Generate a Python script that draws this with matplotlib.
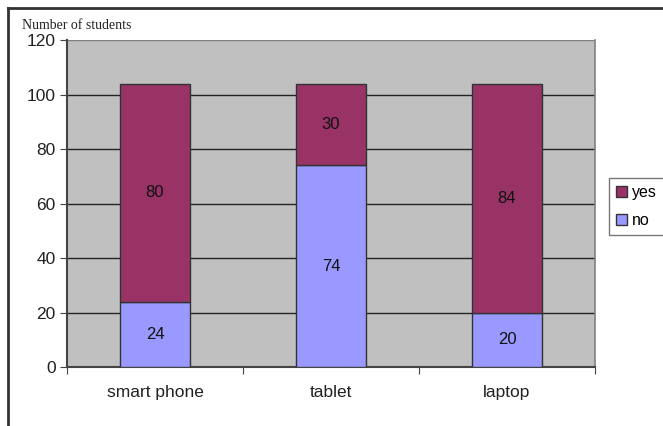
import matplotlib
matplotlib.use("Agg")
import matplotlib.pyplot as plt
from matplotlib.lines import Line2D
import numpy as np

categories = ["smart phone", "tablet", "laptop"]
no_values = [24, 74, 20]
yes_values = [80, 30, 84]
y_ticks = [0, 20, 40, 60, 80, 100, 120]

yes_color = "#993366"
no_color = "#9999FF"

plt.rcParams["font.family"] = ["Liberation Sans", "DejaVu Sans"]

fig = plt.figure(figsize=(6.63, 4.26), dpi=100)
ax = fig.add_axes([0.101, 0.1385, 0.7964, 0.7675])
ax.set_facecolor("#C0C0C0")

x = np.arange(len(categories))
width = 0.4
b_no = ax.bar(x, no_values, width, color=no_color, edgecolor="#333333",
              linewidth=1, label="no", zorder=3)
b_yes = ax.bar(x, yes_values, width, bottom=no_values, color=yes_color,
               edgecolor="#333333", linewidth=1, label="yes", zorder=3)

for rects, vals, bottoms in ((b_no, no_values, [0] * 3), (b_yes, yes_values, no_values)):
    for r, v, b in zip(rects, vals, bottoms):
        ax.text(r.get_x() + r.get_width() / 2, b + v / 2, str(v),
                ha="center", va="center", fontsize=12, color="#111111", zorder=4)

ax.set_xlim(-0.5, len(categories) - 0.5)
ax.set_ylim(0, 120)
ax.set_yticks(y_ticks)
ax.tick_params(axis="y", labelsize=12.5, length=5, color="#444444", pad=3,
               labelcolor="#222222")
ax.yaxis.grid(True, color="#222222", linewidth=1.0, zorder=1)
ax.set_axisbelow(True)
# the top edge of the plot area is a lighter grey line
ax.yaxis.get_gridlines()[-1].set_color("#808080")

# category labels between the boundary ticks
ax.set_xticks(np.arange(-0.5, len(categories), 1.0))
ax.set_xticklabels([])
ax.set_xticks(x, minor=True)
ax.set_xticklabels(categories, minor=True, fontsize=12.5, color="#222222")
ax.tick_params(axis="x", which="major", length=5, color="#444444")
ax.tick_params(axis="x", which="minor", length=0, pad=13)

for side in ("top", "right"):
    ax.spines[side].set_visible(False)
for side in ("left", "bottom"):
    ax.spines[side].set_color("#444444")
    ax.spines[side].set_linewidth(1.5)
# grey border of the plot area on the right
ax.plot([1, 1], [0, 1], transform=ax.transAxes, color="#808080", lw=1.2, clip_on=False, zorder=2)

handles, labels = ax.get_legend_handles_labels()
leg = fig.legend(handles[::-1], labels[::-1], loc="center left",
                 bbox_to_anchor=(0.918, 0.515), fontsize=11.5, frameon=True,
                 fancybox=False, edgecolor="#555555", handlelength=0.7,
                 handleheight=0.7, handletextpad=0.3, borderpad=0.45,
                 labelspacing=0.8, borderaxespad=0)
leg.get_frame().set_linewidth(1.0)

fig.text(0.033, 0.933, "Number of students", fontsize=10,
         family=["Liberation Serif", "DejaVu Serif"], color="#222222")

# outer frame lines
fig.add_artist(Line2D([0.012, 1.0], [0.981, 0.981], transform=fig.transFigure,
                      color="#333333", lw=2))
fig.add_artist(Line2D([0.012, 0.012], [0.0, 0.981], transform=fig.transFigure,
                      color="#333333", lw=2))

fig.savefig("out.png", dpi=100)
